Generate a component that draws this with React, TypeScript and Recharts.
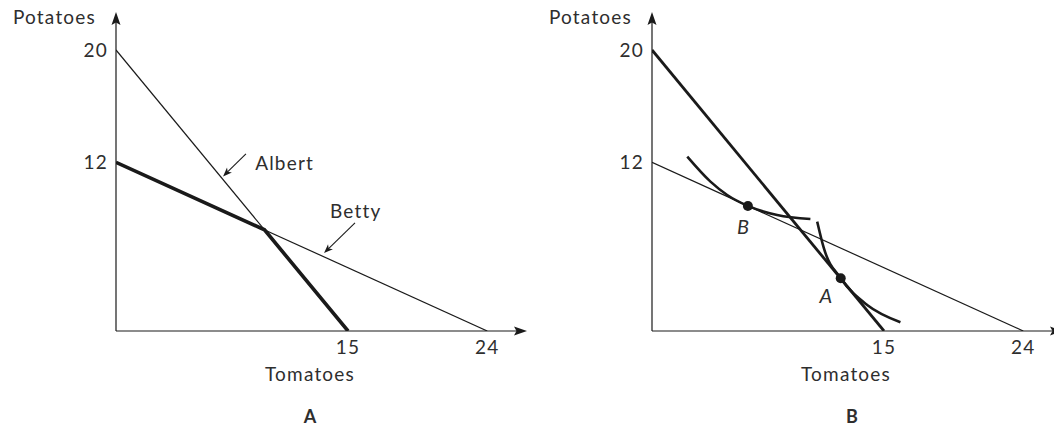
import { LineChart, Line, XAxis, YAxis, ReferenceLine, ReferenceDot } from "recharts";

const INK = "#1a1a1a";
const TEXT = "#2e2e2e";
const FONT = "Lato, 'Open Sans', sans-serif";
const FS = 19;
const LS = 1.2;

// axis extents (arrow tips) in data units
const X_MAX = 26.57;
const Y_MAX = 22.7;

const xTicks = [15, 24];
const yTicks = [12, 20];

// panel A
const albertA = [
  { x: 0, y: 20 },
  { x: 15, y: 0 },
];
const bettyA = [
  { x: 0, y: 12 },
  { x: 24, y: 0 },
];
const jointA = [
  { x: 0, y: 12 },
  { x: 9.6, y: 7.2 },
  { x: 15, y: 0 },
];

// panel B
const albertB = [
  { x: 0, y: 20 },
  { x: 15, y: 0 },
];
const bettyB = [
  { x: 0, y: 12 },
  { x: 24, y: 0 },
];
const curveThroughB = [
  { x: 2.28, y: 12.41 },
  { x: 3.78, y: 10.63 },
  { x: 4.86, y: 9.68 },
  { x: 6.2, y: 8.9 },
  { x: 8.09, y: 8.26 },
  { x: 10.24, y: 7.97 },
];
const curveThroughA = [
  { x: 10.68, y: 7.78 },
  { x: 11.11, y: 5.89 },
  { x: 12.2, y: 3.75 },
  { x: 13.91, y: 1.85 },
  { x: 16.06, y: 0.62 },
];
const pointB = { x: 6.2, y: 8.9 };
const pointA = { x: 12.2, y: 3.75 };

// annotation arrows [tail, head]
const albertArrow = [
  { x: 8.4, y: 12.6 },
  { x: 6.92, y: 11.0 },
];
const bettyArrow = [
  { x: 15.45, y: 7.7 },
  { x: 13.45, y: 5.55 },
];

function arrowShape(head: number, half: number, width: number) {
  return (p: any) => {
    const { x1, y1, x2, y2 } = p;
    const dx = x2 - x1;
    const dy = y2 - y1;
    const len = Math.hypot(dx, dy) || 1;
    const ux = dx / len;
    const uy = dy / len;
    const bx = x2 - ux * head;
    const by = y2 - uy * head;
    const pts = `${x2},${y2} ${bx - uy * half},${by + ux * half} ${bx + ux * 2.5},${by + uy * 2.5} ${bx + uy * half},${by - ux * half}`;
    return (
      <g>
        <line x1={x1} y1={y1} x2={bx + ux * 3} y2={by + uy * 3} stroke={INK} strokeWidth={width} />
        <polygon points={pts} fill={INK} />
      </g>
    );
  };
}

const axisArrow = arrowShape(13, 4.5, 1.2);
const noteArrow = arrowShape(9, 3.5, 1.1);

function pointLabel(text: string, dx: number, dy: number) {
  return (lp: any) => {
    const vb = lp.viewBox || {};
    const cx = (vb.x ?? 0) + (vb.width ?? 0) / 2;
    const cy = (vb.y ?? 0) + (vb.height ?? 0) / 2;
    return (
      <text
        x={cx + dx}
        y={cy + dy}
        textAnchor="middle"
        dominantBaseline="central"
        fontStyle="italic"
        fontSize={20}
        fontFamily={FONT}
        fill={TEXT}
      >
        {text}
      </text>
    );
  };
}

const tickStyle = { fontSize: FS, fill: TEXT, fontFamily: FONT, letterSpacing: LS };

function Panel({ letter, letterDx, children }: { letter: string; letterDx: number; children: any }) {
  return (
    <LineChart width={527} height={427} margin={{ top: 12, right: 0, left: 115, bottom: 95 }}>
      <XAxis
        type="number"
        dataKey="x"
        domain={[0, X_MAX]}
        allowDataOverflow
        ticks={xTicks}
        height={1}
        axisLine={false}
        tickLine={false}
        tickSize={0}
        tickMargin={10}
        tick={tickStyle}
        label={{
          content: (lp: any) => {
            const vb = lp.viewBox;
            return (
              <g fontFamily={FONT} fill={TEXT}>
                <text x={vb.x + 194} y={vb.y + 50} textAnchor="middle" fontSize={FS} letterSpacing={LS}>
                  Tomatoes
                </text>
                <text x={vb.x + letterDx} y={vb.y + 92} textAnchor="middle" fontSize={18} fontWeight="bold">
                  {letter}
                </text>
              </g>
            );
          },
        }}
      />
      <YAxis
        type="number"
        domain={[0, Y_MAX]}
        allowDataOverflow
        ticks={yTicks}
        width={1}
        axisLine={false}
        tickLine={false}
        tickSize={0}
        tickMargin={8}
        tick={tickStyle}
        label={{
          content: (lp: any) => {
            const vb = lp.viewBox;
            return (
              <text
                x={vb.x + vb.width - 20}
                y={vb.y + 12}
                textAnchor="end"
                fontSize={FS}
                letterSpacing={LS}
                fontFamily={FONT}
                fill={TEXT}
              >
                Potatoes
              </text>
            );
          },
        }}
      />
      <ReferenceLine
        segment={[
          { x: 0, y: 0 },
          { x: X_MAX, y: 0 },
        ]}
        ifOverflow="visible"
        shape={axisArrow}
      />
      <ReferenceLine
        segment={[
          { x: 0, y: 0 },
          { x: 0, y: Y_MAX },
        ]}
        ifOverflow="visible"
        shape={axisArrow}
      />
      {children}
    </LineChart>
  );
}

export default function App() {
  return (
    <div style={{ position: "absolute", left: 0, top: 0, width: 1054, height: 427, overflow: "hidden", background: "#fff" }}>
      <div style={{ position: "absolute", left: 0, top: 0 }}>
        <Panel letter="A" letterDx={194}>
          <Line data={albertA} dataKey="y" type="linear" stroke={INK} strokeWidth={1.2} dot={false} isAnimationActive={false} />
          <Line data={bettyA} dataKey="y" type="linear" stroke={INK} strokeWidth={1.2} dot={false} isAnimationActive={false} />
          <Line data={jointA} dataKey="y" type="linear" stroke={INK} strokeWidth={3.6} dot={false} isAnimationActive={false} />
          <ReferenceLine segment={albertArrow} ifOverflow="visible" shape={noteArrow} />
          <ReferenceLine segment={bettyArrow} ifOverflow="visible" shape={noteArrow} />
          <ReferenceDot
            x={10.9}
            y={11.95}
            r={0}
            ifOverflow="visible"
            label={{ value: "Albert", position: "center", fontSize: FS, letterSpacing: LS, fill: TEXT, fontFamily: FONT }}
          />
          <ReferenceDot
            x={15.5}
            y={8.55}
            r={0}
            ifOverflow="visible"
            label={{ value: "Betty", position: "center", fontSize: FS, letterSpacing: LS, fill: TEXT, fontFamily: FONT }}
          />
        </Panel>
      </div>
      <div style={{ position: "absolute", left: 536, top: 0 }}>
        <Panel letter="B" letterDx={200}>
          <Line data={bettyB} dataKey="y" type="linear" stroke={INK} strokeWidth={1.2} dot={false} isAnimationActive={false} />
          <Line data={albertB} dataKey="y" type="linear" stroke={INK} strokeWidth={2.8} dot={false} isAnimationActive={false} />
          <Line data={curveThroughB} dataKey="y" type="monotone" stroke={INK} strokeWidth={2.6} dot={false} isAnimationActive={false} />
          <Line data={curveThroughA} dataKey="y" type="monotone" stroke={INK} strokeWidth={2.6} dot={false} isAnimationActive={false} />
          <ReferenceDot x={pointB.x} y={pointB.y} r={5} fill={INK} stroke="none" ifOverflow="visible" label={{ content: pointLabel("B", -5, 20) }} />
          <ReferenceDot x={pointA.x} y={pointA.y} r={5} fill={INK} stroke="none" ifOverflow="visible" label={{ content: pointLabel("A", -15, 17) }} />
        </Panel>
      </div>
    </div>
  );
}
